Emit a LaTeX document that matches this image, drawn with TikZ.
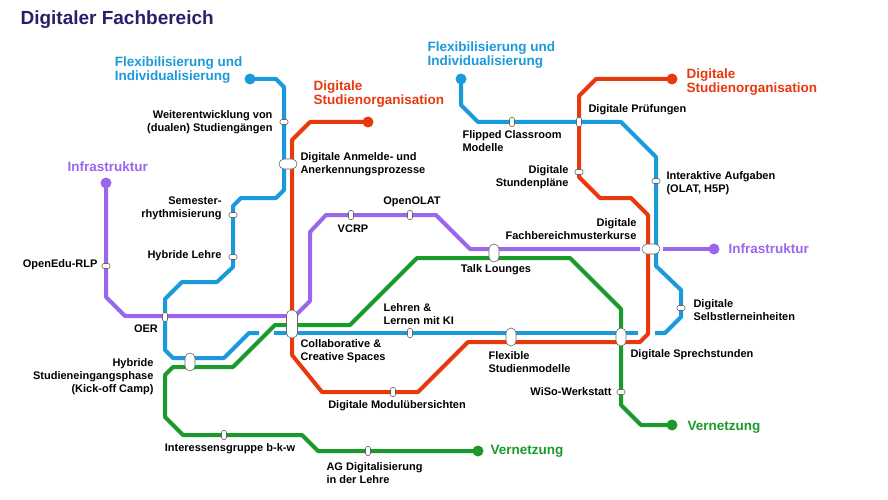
\documentclass[tikz,border=0pt]{standalone}
\usepackage{fontspec}
\setmainfont{Liberation Sans}
\definecolor{lblue}{HTML}{1A9ADA}
\definecolor{lred}{HTML}{E8380D}
\definecolor{lpurple}{HTML}{9A66EE}
\definecolor{lgreen}{HTML}{1A9A2A}
\definecolor{ltitle}{HTML}{2A1F6B}
\tikzset{
	line/.style={line width=4pt, line join=round},
	stop/.style={draw=black!60, fill=white, line width=0.6pt, rounded corners=2pt, inner sep=0pt},
	hstop/.style={stop, minimum width=8pt, minimum height=5pt},
	vstop/.style={stop, minimum width=5pt, minimum height=9pt},
	bigstop/.style={stop, minimum width=#1, rounded corners=5pt},
	lbl/.style={font=\bfseries\fontsize{11}{13}\selectfont, align=left},
	end/.style={font=\bfseries\fontsize{13.5}{14}\selectfont, align=left}
}
\begin{document}
\begin{tikzpicture}[x=1pt,y=-1pt]
	\useasboundingbox (0,0) rectangle (888,500);
	\node[font=\bfseries\fontsize{19}{21}\selectfont, color=ltitle, anchor=west] (title) at (17,20) {Digitaler Fachbereich};
	% lines
	\draw[line, lblue] (250,79) -- (276,79) -- (284,87) -- (284,190) -- (276,198) -- (241,198) -- (233,206)
		-- (233,267) -- (217,282) -- (182,282) -- (165,299) -- (165,350) -- (173,358) -- (224,358) -- (249,333) -- (259,333);
	\draw[line, lblue] (274,333) -- (638,333);
	\draw[line, lblue] (655,333) -- (665,333) -- (681,317) -- (681,290) -- (656,266) -- (656,157) -- (621,122)
		-- (478,122) -- (461,105) -- (461,79);
	\draw[line, lpurple] (106,183) -- (106,297) -- (125,316) -- (295,316) -- (310,301) -- (310,232) -- (326,215)
		-- (436,215) -- (470,249) -- (640,249);
	\draw[line, lpurple] (663,249) -- (714,249);
	\draw[line, lgreen] (478,451) -- (318,451) -- (302,435) -- (183,435) -- (165,417) -- (165,375) -- (173,367)
		-- (233,367) -- (275,325) -- (350,325) -- (417,258) -- (570,258) -- (621,309) -- (621,405) -- (641,425) -- (672,425);
	\draw[line, lred] (368,122) -- (310,122) -- (292,140) -- (292,355) -- (322,392) -- (418,392) -- (468,342)
		-- (640,342) -- (648,334) -- (648,215) -- (631,198) -- (600,198) -- (579,177) -- (579,96) -- (596,79) -- (672,79);
	% terminals
	\foreach \x/\y/\c/\n in {250/79/lblue/fa, 461/79/lblue/fb, 368/122/lred/da, 672/79/lred/db,
		106/183/lpurple/ia, 714/249/lpurple/ib, 478/451/lgreen/va, 672/425/lgreen/vb}
		\fill[\c] (\x,\y) circle (5.5pt) coordinate (t\n);
	% stations
	\node[hstop] (weiter) at (284,122) {};
	\node[bigstop=18pt, minimum height=10pt] (anmelde) at (288,164) {};
	\node[hstop] (semester) at (233,215) {};
	\node[hstop] (hlehre) at (233,257) {};
	\node[hstop] (openedu) at (106,266) {};
	\node[vstop] (oer) at (165,317) {};
	\node[vstop] (vcrp) at (351,215) {};
	\node[vstop] (openolat) at (410,215) {};
	\node[bigstop=10pt, minimum height=18pt] (hybride) at (190,362) {};
	\node[bigstop=11pt, minimum height=28pt] (collab) at (292,324) {};
	\node[vstop] (ki) at (410,333) {};
	\node[vstop] (modul) at (393,392) {};
	\node[vstop] (interesse) at (224,435) {};
	\node[vstop] (ag) at (368,451) {};
	\node[bigstop=10pt, minimum height=18pt] (talk) at (494,253) {};
	\node[vstop] (flipped) at (512,122) {};
	\node[vstop] (pruef) at (579,122) {};
	\node[hstop] (stunden) at (579,172) {};
	\node[hstop] (interaktiv) at (656,181) {};
	\node[bigstop=18pt, minimum height=10pt] (muster) at (651,249) {};
	\node[hstop] (selbst) at (681,308) {};
	\node[bigstop=10pt, minimum height=18pt] (flex) at (511,337) {};
	\node[bigstop=10pt, minimum height=18pt] (sprech) at (621,337) {};
	\node[hstop] (wiso) at (621,392) {};
	% line names
	\node[end, lblue, anchor=east] (fla) at (246,70) {Flexibilisierung und\\Individualisierung};
	\node[end, lblue, anchor=south west] (flb) at (424,72) {Flexibilisierung und\\Individualisierung};
	\node[end, lred, anchor=west] (dsa) at (310,94) {Digitale\\Studienorganisation};
	\node[end, lred, anchor=west] (dsb) at (683,82) {Digitale\\Studienorganisation};
	\node[end, lpurple, anchor=west] (ifa) at (64,167) {Infrastruktur};
	\node[end, lpurple, anchor=west] (ifb) at (725,249) {Infrastruktur};
	\node[end, lgreen, anchor=west] (vna) at (487,451) {Vernetzung};
	\node[end, lgreen, anchor=west] (vnb) at (684,427) {Vernetzung};
	% station names
	\node[lbl, anchor=east, align=right] at (276,122) {Weiterentwicklung von\\(dualen) Studiengängen};
	\node[lbl, anchor=west] at (297,164) {Digitale Anmelde- und\\Anerkennungsprozesse};
	\node[lbl, anchor=east, align=right] at (225,208) {Semester-\\rhythmisierung};
	\node[lbl, anchor=east] at (225,256) {Hybride Lehre};
	\node[lbl, anchor=east] at (101,265) {OpenEdu-RLP};
	\node[lbl] at (146,329) {OER};
	\node[lbl] at (353,229) {VCRP};
	\node[lbl] at (412,202) {OpenOLAT};
	\node[lbl, anchor=east, align=right] at (157,377) {Hybride\\Studieneingangsphase\\(Kick-off Camp)};
	\node[lbl, anchor=west] at (297,351) {Collaborative \&\\Creative Spaces};
	\node[lbl, anchor=west] at (380,314) {Lehren \&\\Lernen mit KI};
	\node[lbl] at (397,406) {Digitale Modulübersichten};
	\node[lbl] at (230,449) {Interessensgruppe b-k-w};
	\node[lbl, anchor=west] at (323,473) {AG Digitalisierung\\in der Lehre};
	\node[lbl] at (496,270) {Talk Lounges};
	\node[lbl, anchor=west] at (459,141) {Flipped Classroom\\Modelle};
	\node[lbl, anchor=west] at (585,110) {Digitale Prüfungen};
	\node[lbl, anchor=east, align=right] at (572,177) {Digitale\\Stundenpläne};
	\node[lbl, anchor=west] at (663,183) {Interaktive Aufgaben\\(OLAT, H5P)};
	\node[lbl, anchor=east, align=right] at (640,229) {Digitale\\Fachbereichmusterkurse};
	\node[lbl, anchor=west] at (690,310) {Digitale\\Selbstlerneinheiten};
	\node[lbl, anchor=west] at (485,362) {Flexible\\Studienmodelle};
	\node[lbl, anchor=west] at (627,355) {Digitale Sprechstunden};
	\node[lbl, anchor=east] at (615,392) {WiSo-Werkstatt};
\end{tikzpicture}
\end{document}
